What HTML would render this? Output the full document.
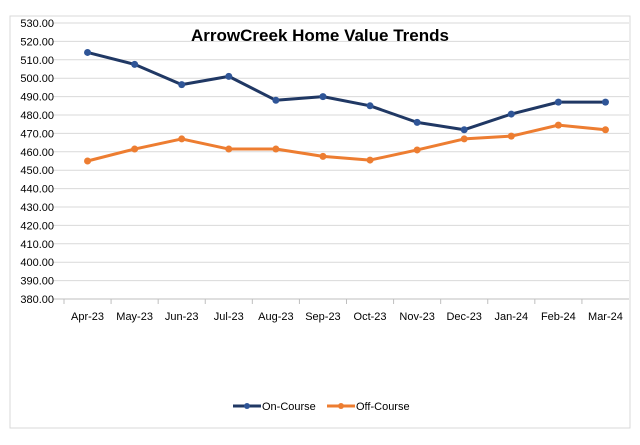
<!DOCTYPE html>
<html><head><meta charset="utf-8"><style>
body{margin:0;background:#fff;width:640px;height:440px;overflow:hidden;font-family:"Liberation Sans",Arial,sans-serif}
</style></head><body>
<svg width="640" height="440">
<rect x="10" y="16" width="620" height="412" fill="#fff" stroke="#d9d9d9"/>
<g id="grid"></g><g id="ylab"></g><g id="xlab"></g><g id="series"></g>
<text x="320" y="41" text-anchor="middle" font-size="17" font-weight="bold" fill="#000">ArrowCreek Home Value Trends</text>
<g>
<g><line x1="233" y1="406" x2="261" y2="406" stroke="#203864" stroke-width="3"/><circle cx="247" cy="406" r="3" fill="#2f5597"/><text x="262" y="410" font-size="11">On-Course</text></g>
<g><line x1="327" y1="406" x2="355" y2="406" stroke="#ed7d31" stroke-width="3"/><circle cx="341" cy="406" r="3" fill="#ed7d31"/><text x="356" y="410" font-size="11">Off-Course</text></g>
</g>
</svg>
<script>
const categories=["Apr-23","May-23","Jun-23","Jul-23","Aug-23","Sep-23","Oct-23","Nov-23","Dec-23","Jan-24","Feb-24","Mar-24"];
const onCourse=[514,507.5,496.5,501,488,490,485,476,472,480.5,487,487];
const offCourse=[455,461.5,467,461.5,461.5,457.5,455.5,461,467,468.5,474.5,472];
const yTicks=[380,390,400,410,420,430,440,450,460,470,480,490,500,510,520,530];
const NS="http://www.w3.org/2000/svg";
const L=64,R=629,T=23,B=299,yMin=380,yMax=530;
const band=(R-L)/categories.length;
const x=i=>L+band*(i+0.5);
const y=v=>B-(v-yMin)/(yMax-yMin)*(B-T);
function mk(tag,at,parent){const e=document.createElementNS(NS,tag);for(const k in at)e.setAttribute(k,at[k]);document.getElementById(parent).appendChild(e);return e;}
yTicks.forEach(v=>{
 const g=mk('line',{x1:53,x2:R,y1:y(v),y2:y(v),stroke:v===yMin?'#bfbfbf':'#d9d9d9','stroke-width':1},'grid');
 
 
 const t=mk('text',{x:54,y:y(v)+4,'text-anchor':'end','font-size':11,fill:'#000'},'ylab');
 t.textContent=v.toFixed(2);
 
 
});
categories.forEach((c,i)=>{
 const tk=mk('line',{x1:L+band*i,x2:L+band*i,y1:B,y2:B+5,stroke:'#bfbfbf'},'xlab');
 
 
 const t=mk('text',{x:x(i),y:B+21,'text-anchor':'middle','font-size':11,fill:'#000'},'xlab');
 t.textContent=c;
 
 
});
function series(vals,color,mcolor,name){
 const p=mk('polyline',{points:vals.map((v,i)=>x(i)+','+y(v)).join(' '),fill:'none',stroke:color,'stroke-width':3,'stroke-linejoin':'round'},'series');
 
 
 vals.forEach((v,i)=>{
  const c=mk('circle',{cx:x(i),cy:y(v),r:3.5,fill:mcolor},'series');
  
  
 });
}
series(onCourse,'#203864','#2f5597','on-course');
series(offCourse,'#ed7d31','#ed7d31','off-course');
</script>
</body></html>
